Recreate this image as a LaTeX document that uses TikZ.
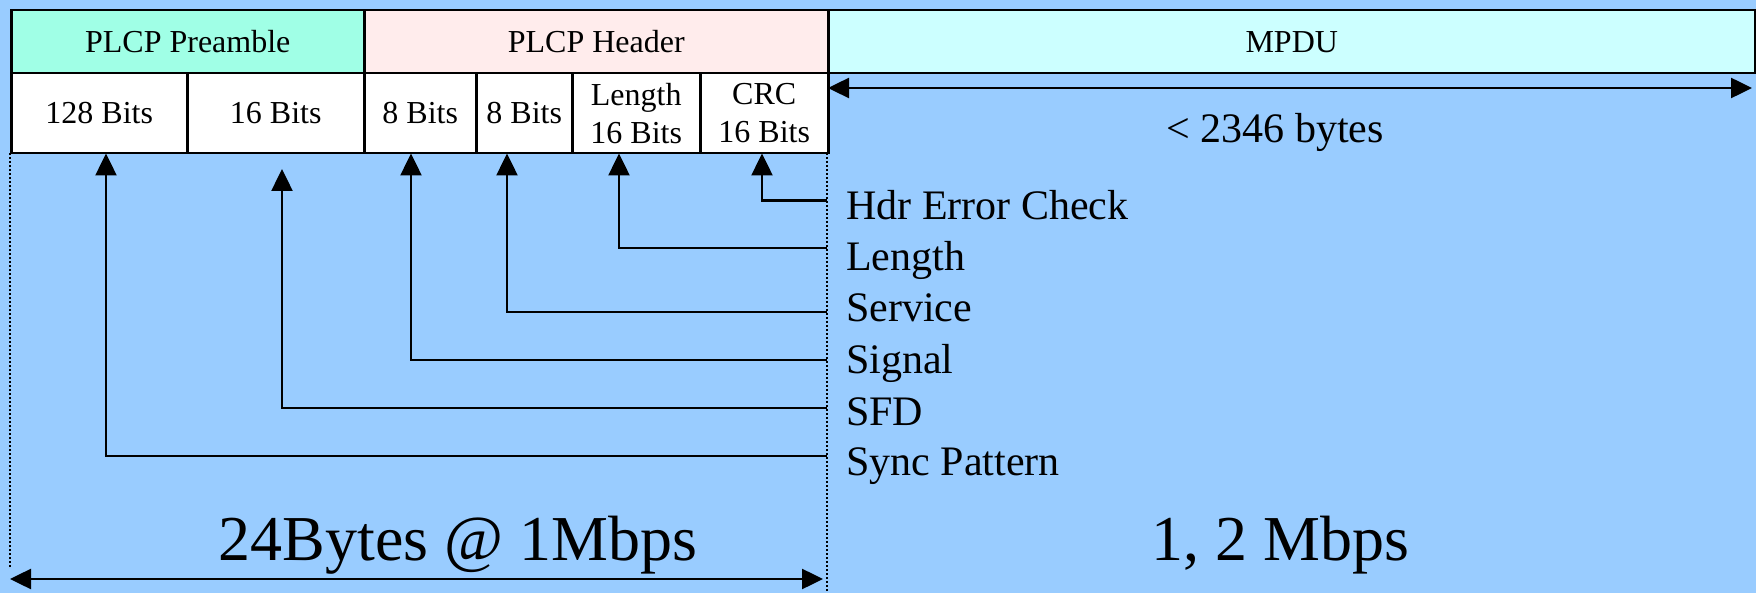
\documentclass[tikz,border=0pt]{standalone}
\usepackage{fontspec}
\setmainfont{Liberation Serif}
\usetikzlibrary{arrows.meta}
\definecolor{bgblue}{RGB}{153,204,255}
\definecolor{preamb}{RGB}{160,255,230}
\definecolor{hdrpink}{RGB}{255,236,236}
\definecolor{mpducyan}{RGB}{204,255,255}
\begin{document}
\begin{tikzpicture}[x=1pt,y=-1pt,
  cell/.style={draw=black,line width=2.5pt,anchor=north west,inner sep=0pt,
    align=center,font=\fontsize{32}{38}\selectfont},
  lbl/.style={anchor=base west,inner sep=0pt,font=\fontsize{42}{50}\selectfont},
  big/.style={anchor=base,inner sep=0pt,font=\fontsize{64}{70}\selectfont},
  arr/.style={line width=2.5pt,-{Triangle[length=22pt,width=21pt]}},
  dbl/.style={line width=2.5pt,{Triangle[length=21pt,width=20pt]}-{Triangle[length=21pt,width=20pt]}},
  dotline/.style={line width=2pt,dash pattern=on 2pt off 2pt}]
\fill[bgblue] (0,0) rectangle (1756,593);
\useasboundingbox (0,0) rectangle (1756,593);
% top row
\node[cell,fill=preamb,minimum width=353pt,minimum height=63pt] (pre) at (10,9) {PLCP Preamble};
\node[cell,fill=hdrpink,minimum width=464pt,minimum height=63pt] (hdr) at (363,9) {PLCP Header};
\node[cell,fill=mpducyan,minimum width=927pt,minimum height=63pt] (mpdu) at (827,9) {MPDU};
% second row
\node[cell,fill=white,minimum width=176pt,minimum height=80pt] (c1) at (10,72) {128 Bits};
\node[cell,fill=white,minimum width=177pt,minimum height=80pt] (c2) at (186,72) {16 Bits};
\node[cell,fill=white,minimum width=112pt,minimum height=80pt] (c3) at (363,72) {8 Bits};
\node[cell,fill=white,minimum width=96pt,minimum height=80pt] (c4) at (475,72) {8 Bits};
\node[cell,fill=white,minimum width=128pt,minimum height=80pt] (c5) at (571,72) {Length\\16 Bits};
\node[cell,fill=white,minimum width=128pt,minimum height=80pt] (c6) at (699,72) {CRC\\16 Bits};
% dotted boundaries
\coordinate (dl1) at (10,153);
\coordinate (dl2) at (10,567);
\coordinate (dr1) at (827,153);
\coordinate (dr2) at (827,593);
\draw[dotline] (dl1) -- (dl2);
\draw[dotline] (dr1) -- (dr2);
% MPDU length arrow
\coordinate (m1) at (828,88);
\coordinate (m2) at (1752,88);
\draw[dbl] (m1) -- (m2);
\node[anchor=base,inner sep=0pt,font=\fontsize{42}{50}\selectfont] (len) at (1275,143) {< 2346 bytes};
% labels
\node[lbl] (l1) at (846,219.3) {Hdr Error Check};
\node[lbl] (l2) at (846,270.7) {Length};
\node[lbl] (l3) at (846,321.7) {Service};
\node[lbl] (l4) at (846,373.3) {Signal};
\node[lbl] (l5) at (846,425) {SFD};
\node[lbl] (l6) at (846,475) {Sync Pattern};
% connector starts on dotted line
\coordinate (s1) at (827,200.7);
\coordinate (s2) at (827,248);
\coordinate (s3) at (827,312);
\coordinate (s4) at (827,360);
\coordinate (s5) at (827,408);
\coordinate (s6) at (827,456);
% arrow tips
\coordinate (t1) at (762,153.5);
\coordinate (t2) at (619,153.5);
\coordinate (t3) at (507,153.5);
\coordinate (t4) at (411,153.5);
\coordinate (t5) at (282,169);
\coordinate (t6) at (106,153.5);
\draw[arr] (s1) -| (t1);
\draw[arr] (s2) -| (t2);
\draw[arr] (s3) -| (t3);
\draw[arr] (s4) -| (t4);
\draw[arr] (s5) -| (t5);
\draw[arr] (s6) -| (t6);
% bottom
\node[big] (rate1) at (458,560) {24Bytes @ 1Mbps};
\node[big] (rate2) at (1280,560) {1, 2 Mbps};
\coordinate (b1) at (10,579);
\coordinate (b2) at (823,579);
\draw[dbl] (b1) -- (b2);
\end{tikzpicture}
\end{document}
